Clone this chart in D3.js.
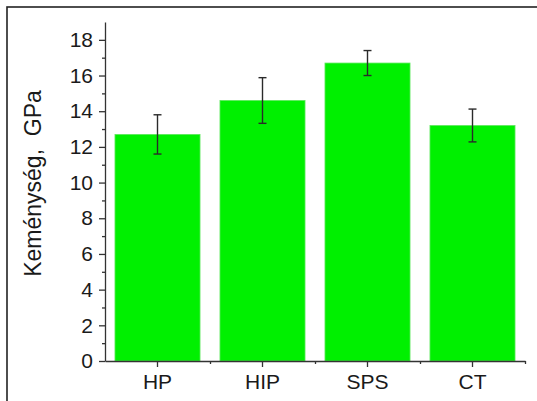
<!DOCTYPE html>
<html>
<head>
<meta charset="utf-8">
<script src="https://cdn.jsdelivr.net/npm/d3@7"></script>
<style>
	body { margin: 0; background: #fff; }
	svg { display: block; font-family: "Liberation Sans", Arial, sans-serif; }
	.axis path, .axis line { stroke: #333; stroke-width: 1.3px; }
	.axis text { fill: #1a1a1a; font-size: 21px; }
</style>
</head>
<body>
<svg id="chart"></svg>
<script>
var categories = ["HP", "HIP", "SPS", "CT"];
var hardness = [12.7, 14.6, 16.7, 13.2];
var errors = [1.1, 1.28, 0.7, 0.92];
var yTicks = [0, 2, 4, 6, 8, 10, 12, 14, 16, 18];
var yMinorTicks = [1, 3, 5, 7, 9, 11, 13, 15, 17];

var W = 537, H = 401;
var margin = {top: 22, right: 12, bottom: 40, left: 105},
	width = W - margin.left - margin.right,
	height = H - margin.top - margin.bottom;

var svg = d3.select("#chart")
	.attr("width", W)
	.attr("height", H);

// frame around the whole picture
svg.append("rect")
	.attr("x", 7)
	.attr("y", 7)
	.attr("width", 700)
	.attr("height", 600)
	.attr("fill", "none")
	.attr("stroke", "#222")
	.attr("stroke-width", 1.6);

var g = svg.append("g")
	.attr("transform", "translate(" + margin.left + "," + margin.top + ")");

var x = d3.scaleBand()
	.domain(categories)
	.range([0, width])
	.paddingInner(0.19)
	.paddingOuter(0.095);

var xMinor = d3.scaleLinear()
	.domain([0, categories.length])
	.range([0, width]);

var y = d3.scaleLinear()
	.domain([0, 19])
	.range([height, 0]);

// bars
g.selectAll(".bar")
	.data(hardness)
	.enter().append("rect")
	.attr("class", "bar")
	.attr("x", function(d, i) { return x(categories[i]); })
	.attr("y", function(d) { return y(d); })
	.attr("width", x.bandwidth())
	.attr("height", function(d) { return y(0) - y(d); })
	.attr("fill", "#00f000")
	.attr("stroke", "#5ee85e")
	.attr("stroke-width", 0.8);

// error bars
var capW = 4;
var err = g.selectAll(".err")
	.data(hardness)
	.enter().append("g")
	.attr("class", "err")
	.attr("stroke", "#2a2a2a")
	.attr("stroke-width", 1.4);

err.append("line")
	.attr("x1", function(d, i) { return x(categories[i]) + x.bandwidth() / 2; })
	.attr("x2", function(d, i) { return x(categories[i]) + x.bandwidth() / 2; })
	.attr("y1", function(d, i) { return y(d + errors[i]); })
	.attr("y2", function(d, i) { return y(d - errors[i]); });

err.append("line")
	.attr("x1", function(d, i) { return x(categories[i]) + x.bandwidth() / 2 - capW; })
	.attr("x2", function(d, i) { return x(categories[i]) + x.bandwidth() / 2 + capW; })
	.attr("y1", function(d, i) { return y(d + errors[i]); })
	.attr("y2", function(d, i) { return y(d + errors[i]); });

err.append("line")
	.attr("x1", function(d, i) { return x(categories[i]) + x.bandwidth() / 2 - capW; })
	.attr("x2", function(d, i) { return x(categories[i]) + x.bandwidth() / 2 + capW; })
	.attr("y1", function(d, i) { return y(d - errors[i]); })
	.attr("y2", function(d, i) { return y(d - errors[i]); });

// y axis
g.append("g")
	.attr("class", "y axis")
	.call(d3.axisLeft(y).tickValues(yTicks).tickSize(6).tickPadding(6).tickSizeOuter(0));

g.append("g")
	.attr("class", "y axis minor")
	.call(d3.axisLeft(y).tickValues(yMinorTicks).tickSize(3).tickFormat("").tickSizeOuter(0))
	.select(".domain").remove();

// x axis
g.append("g")
	.attr("class", "x axis")
	.attr("transform", "translate(0," + height + ")")
	.call(d3.axisBottom(x).tickSize(6).tickPadding(7).tickSizeOuter(0));

g.append("g")
	.attr("class", "x axis minor")
	.attr("transform", "translate(0," + height + ")")
	.call(d3.axisBottom(xMinor).tickValues([1, 2, 3, 4]).tickSize(3).tickFormat("").tickSizeOuter(0))
	.select(".domain").remove();

// y label (two spaces after the comma, as in the original)
svg.append("text")
	.attr("transform", "translate(40.5," + 183.5 + ") rotate(-90)")
	.attr("text-anchor", "middle")
	.attr("fill", "#1a1a1a")
	.style("font-size", "23px")
	.text("Keménység,\u00a0\u00a0GPa");
</script>
</body>
</html>
